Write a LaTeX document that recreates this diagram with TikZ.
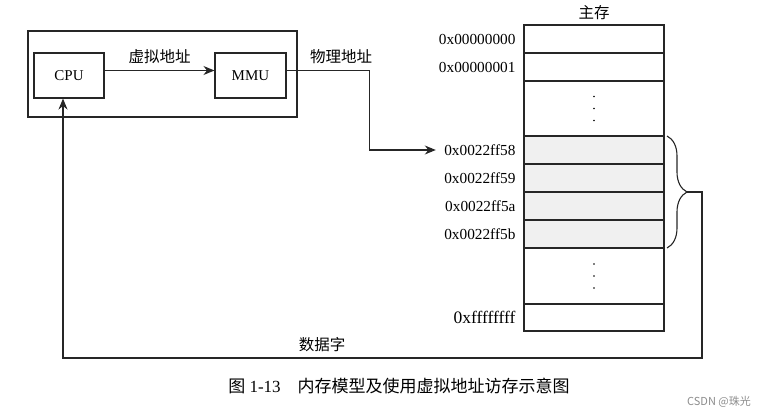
\documentclass[tikz,border=0pt]{standalone}
\usepackage{fontspec}
\setmainfont{Liberation Serif}
\newfontfamily\cjk{Noto Sans CJK SC}
\usetikzlibrary{positioning,arrows.meta,decorations.pathreplacing}

\begin{document}
\begin{tikzpicture} [
        x = 1pt, y = -1pt,
        line width = 1.1pt, draw = black!85,
        every node/.style = {font=\fontsize{15}{18}\selectfont, inner sep=2pt},
        box/.style = {draw, minimum width=70pt, minimum height=45pt},
        cell/.style = {draw, minimum width=140pt, minimum height=#1, outer sep=0pt},
        cell/.default = 28pt,
        used/.style = {cell, fill=black!6},
        addr/.style = {left=6pt of #1, font=\fontsize{15.3}{18}\selectfont},
        zh/.style = {font=\cjk\fontsize{15.5}{18}\selectfont},
        arr/.style = {-{Stealth[length=11pt,width=9pt]}}
    ]
    \useasboundingbox (0,0) rectangle (768,417);

    % CPU side
    \node (chip) [draw, minimum width=269pt, minimum height=86pt] at (162.5,74) {};
    \node (cpu) [box] at (69,75.5) {CPU};
    \node (mmu) [box, minimum width=71pt] at (250.5,75.5) {MMU};
    \draw[arr] ([yshift=5pt]cpu.east) -- node[zh, above=4pt] {虚拟地址} ([yshift=5pt]mmu.east -| mmu.west);

    % main memory
    \node (c1) [cell] at (594,39) {};
    \node (c2) [cell, below=0pt of c1] {};
    \node (c3) [cell=55pt, below=0pt of c2] {};
    \node (c4) [used, below=0pt of c3] {};
    \node (c5) [used, below=0pt of c4] {};
    \node (c6) [used, below=0pt of c5] {};
    \node (c7) [used, below=0pt of c6] {};
    \node (c8) [cell=56pt, below=0pt of c7] {};
    \node (c9) [cell=27pt, below=0pt of c8] {};
    \node (title) [zh, above=3pt of c1] {主存};

    \foreach \c in {c3,c8}
        \foreach \d in {-12,0,12}
            \fill ([yshift=\d pt]\c.center) circle (0.9pt);

    \node (a00) [addr=c1] {0x00000000};
    \node (a01) [addr=c2] {0x00000001};
    \node (a58) [addr=c4] {0x0022ff58};
    \node (a59) [addr=c5] {0x0022ff59};
    \node (a5a) [addr=c6] {0x0022ff5a};
    \node (a5b) [addr=c7] {0x0022ff5b};
    \node (aff) [addr=c9, font=\fontsize{17.5}{20}\selectfont] {0xffffffff};

    % physical address
    \draw[arr, shorten >=6pt] ([yshift=5pt]mmu.east) -- ++(83,0) coordinate (bend) |- (a58.west);
    \node (phys) [zh] at (341,57) {物理地址};

    % data word back to CPU
    \draw[decorate, decoration={brace, amplitude=20pt}]
        ([xshift=3pt]c4.north east) -- ([xshift=3pt]c7.south east)
        coordinate[midway, xshift=20pt] (tip);
    \coordinate (ret) at (702,358);
    \draw[arr] (tip) -| (ret) -| ([xshift=-6pt]cpu.south);
    \node (word) [zh] at (322,345) {数据字};

    % caption
    \node (cap) [font=\fontsize{17}{20}\selectfont] at (399,386)
        {{\cjk 图} 1-13\hspace{1em}{\cjk 内存模型及使用虚拟地址访存示意图}};
    \node (mark) [font=\cjk\fontsize{11}{13}\selectfont, text=black!45] at (719,402) {CSDN @珠光};
\end{tikzpicture}
\end{document}
